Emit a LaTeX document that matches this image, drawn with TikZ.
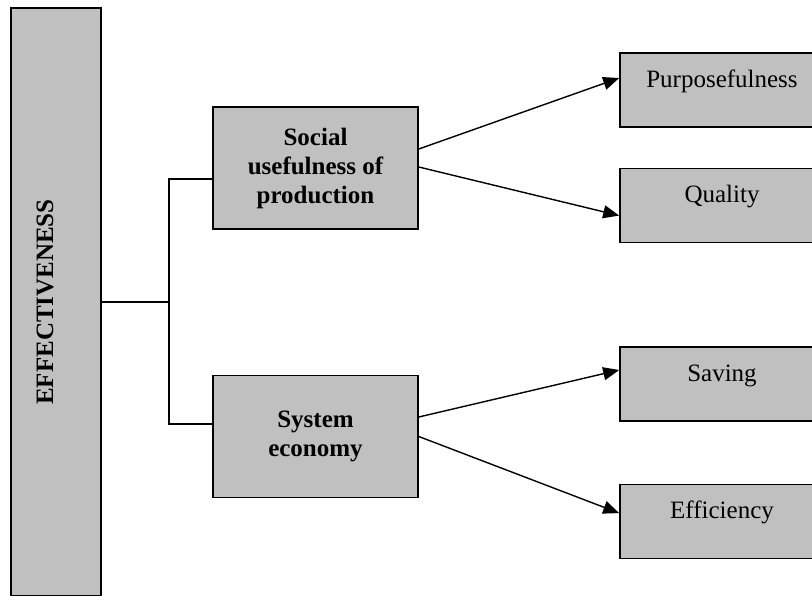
\documentclass[tikz,border=0pt]{standalone}
\usepackage{fontspec}
\setmainfont{Liberation Serif}
\usepackage{tikz}
\usetikzlibrary{positioning,arrows.meta}
\definecolor{boxgray}{HTML}{C0C0C0}

\begin{document}
\begin{tikzpicture}[
x=1pt, y=-1pt,
bar/.style={rectangle, draw=black, line width=1.6pt, fill=boxgray, rotate=90, minimum width=588pt, minimum height=90pt, inner sep=0pt, text height=17pt, text depth=23pt, font=\fontsize{25pt}{29pt}\selectfont\bfseries},
block/.style={rectangle, draw=black, line width=1.6pt, fill=boxgray, minimum width=205pt, minimum height=122pt, inner sep=0pt, align=center, font=\fontsize{25pt}{29pt}\selectfont\bfseries},
leaf/.style={rectangle, draw=black, line width=1.6pt, fill=boxgray, minimum width=204pt, minimum height=74pt, inner sep=0pt, text height=17pt, text depth=23pt, font=\fontsize{25pt}{29pt}\selectfont},
link/.style={line width=1.4pt},
arrow/.style={line width=1.4pt, -{Triangle[length=16pt,width=13pt]}},
]
\useasboundingbox (0,0) rectangle (812,595);
\clip (0,0) rectangle (812,595);

\node[bar] (effect) at (56,302) {EFFECTIVENESS};
\node[block] (social) at (315.5,168) {Social\\usefulness of\\production};
\node[block] (system) at (315.5,436.5) {System\\economy};
\node[leaf] (purpose) at (722,90) {Purposefulness};
\node[leaf] (quality) [below=40pt of purpose] {Quality};
\node[leaf] (saving) at (722,384) {Saving};
\node[leaf] (efficiency) [below=62pt of saving] {Efficiency};

%Fork points
\coordinate (fork_top) at (169,179);
\coordinate (fork_bot) at (169,424);

%Tree lines
\draw[link] (effect.south) -- (effect.south -| fork_top);
\draw[link] (social.west |- fork_top) -- (fork_top) -- (fork_bot) -- (system.west |- fork_bot);

%Social arrows
\draw[arrow] ([yshift=19pt]social.east) -- ([yshift=12pt]purpose.west);
\draw[arrow] ([yshift=1pt]social.east) -- ([yshift=-10pt]quality.west);

%Economy arrows
\draw[arrow] ([yshift=19.5pt]system.east) -- ([yshift=14pt]saving.west);
\draw[arrow] (system.east) -- ([yshift=8.5pt]efficiency.west);
\end{tikzpicture}
\end{document}
